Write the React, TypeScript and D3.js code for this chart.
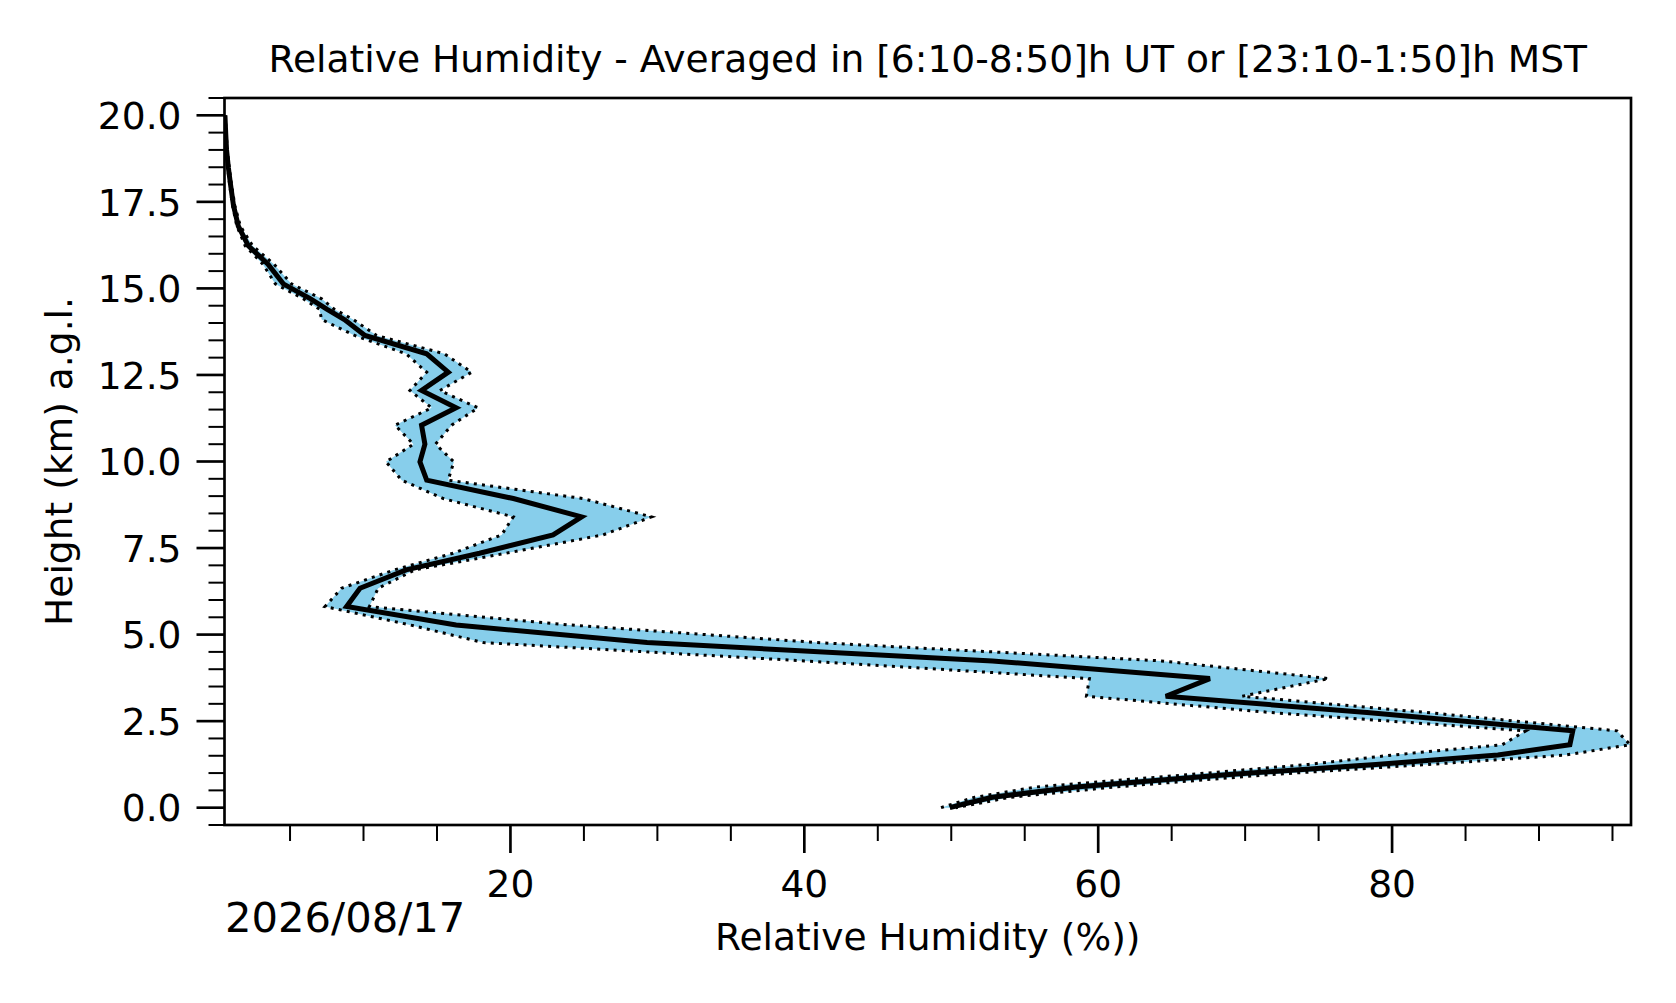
import React from "react";
import * as d3 from "d3";

// Heights (km a.g.l.) of the profile levels, top to bottom
const heights = [
  20.0, 19.5, 19.0, 18.5, 18.0, 17.4, 16.8, 16.23, 15.7, 15.13, 14.7, 14.4, 14.1,
  13.64, 13.11, 12.58, 12.05, 11.55, 11.05, 10.5, 9.99, 9.46, 8.93, 8.4, 7.88,
  7.35, 6.87, 6.34, 5.81, 5.28, 4.77, 4.24, 3.73, 3.22, 2.74, 2.22, 1.82, 1.52,
  1.25, 0.95, 0.6, 0.3, 0.12, 0.0,
];

// Mean relative humidity (%)
const rhMean = [
  0.57, 0.62, 0.68, 0.8, 0.95, 1.15, 1.48, 2.16, 3.5, 4.54, 6.4, 7.5, 8.7,
  10.1, 14.3, 15.77, 13.95, 16.3, 13.95, 14.18, 13.84, 14.3, 20.2, 24.84, 22.9,
  17.9, 12.9, 9.76, 8.85, 16.3, 29.3, 52.8, 67.6, 64.6, 78.5, 92.3, 92.1, 87.2,
  78.9, 68.7, 58.5, 52.8, 51.0, 49.9,
];

// Lower bound (mean - std)
const rhLower = [
  0.55, 0.59, 0.64, 0.75, 0.89, 1.08, 1.38, 1.95, 3.15, 4.0, 5.9, 7.0, 7.15,
  9.4, 12.9, 14.3, 13.16, 14.64, 12.14, 13.4, 11.53, 12.6, 15.43, 20.19, 19.4,
  16.1, 12.1, 8.51, 7.38, 13.16, 18.15, 40.0, 59.4, 59.2, 72.0, 89.1, 87.5, 80.0,
  74.3, 66.0, 55.8, 51.6, 50.2, 49.3,
];

// Upper bound (mean + std)
const rhUpper = [
  0.6, 0.66, 0.73, 0.86, 1.02, 1.24, 1.62, 2.45, 3.9, 5.1, 7.15, 8.0, 9.3,
  10.9, 15.5, 17.36, 15.2, 17.8, 16.0, 14.9, 16.15, 15.76, 24.95, 29.6, 26.3,
  19.7, 13.5, 11.0, 10.4, 24.0, 40.9, 64.3, 75.7, 69.8, 82.6, 95.3, 96.2, 91.8,
  82.5, 71.5, 61.2, 54.0, 51.8, 50.3,
];

const xMajorTicks = [20, 40, 60, 80];
const xMinorTicks = [5, 10, 15, 25, 30, 35, 45, 50, 55, 65, 70, 75, 85, 90, 95];
const yMajorTicks = [0, 2.5, 5, 7.5, 10, 12.5, 15, 17.5, 20];
const yMinorTicks = [
  -0.5, 0.5, 1, 1.5, 2, 3, 3.5, 4, 4.5, 5.5, 6, 6.5, 7, 8, 8.5, 9, 9.5, 10.5, 11,
  11.5, 12, 13, 13.5, 14, 14.5, 15.5, 16, 16.5, 17, 18, 18.5, 19, 19.5, 20.5,
];

const titleText =
  "Relative Humidity - Averaged in [6:10-8:50]h UT or [23:10-1:50]h MST";
const xLabel = "Relative Humidity (%))";
const yLabel = "Height (km) a.g.l.";
const dateText = "2026/08/17";

const W = 1676;
const H = 1003;
const L = 224.5;
const R = 1631;
const T = 98;
const B = 825;
const FONT = "DejaVu Sans, sans-serif";
const FS = 37.6;

export default function App() {
  const x = d3.scaleLinear().domain([0.54, 96.26]).range([L, R]);
  const y = d3.scaleLinear().domain([-0.5, 20.5]).range([B, T]);

  const rows = heights.map((h, i) => ({
    h,
    m: rhMean[i],
    lo: rhLower[i],
    hi: rhUpper[i],
  }));

  const area = d3
    .area<(typeof rows)[number]>()
    .y((d) => y(d.h))
    .x0((d) => x(d.lo))
    .x1((d) => x(d.hi));
  const lineOf = (key: "m" | "lo" | "hi") =>
    d3
      .line<(typeof rows)[number]>()
      .x((d) => x(d[key]))
      .y((d) => y(d.h))(rows) || "";

  const fmtY = d3.format(".1f");
  const fmtX = d3.format("d");
  const majorLen = 28;
  const minorLen = 16;

  return (
    <svg
      width={W}
      height={H}
      style={{ position: "absolute", left: 0, top: 0, background: "#fff" }}
      fontFamily={FONT}
    >
      <rect x={0} y={0} width={W} height={H} fill="#fff" />
      <defs>
        <clipPath id="plotclip">
          <rect x={L} y={T} width={R - L} height={B - T} />
        </clipPath>
      </defs>
      <g clipPath="url(#plotclip)">
        <path d={area(rows) || ""} fill="#87CEEB" stroke="none" />
        <path
          d={lineOf("lo")}
          fill="none"
          stroke="#000"
          strokeWidth={3}
          strokeDasharray="3 5.2"
        />
        <path
          d={lineOf("hi")}
          fill="none"
          stroke="#000"
          strokeWidth={3}
          strokeDasharray="3 5.2"
        />
        <path
          d={lineOf("m")}
          fill="none"
          stroke="#000"
          strokeWidth={5}
          strokeLinejoin="miter"
        />
      </g>

      {/* spines */}
      <rect
        x={L}
        y={T}
        width={R - L}
        height={B - T}
        fill="none"
        stroke="#000"
        strokeWidth={2.67}
      />

      {/* y ticks */}
      {yMajorTicks.map((t) => (
        <g key={"ym" + t}>
          <line
            x1={L - majorLen}
            x2={L}
            y1={y(t)}
            y2={y(t)}
            stroke="#000"
            strokeWidth={2.67}
          />
          <text
            x={L - majorLen - 15}
            y={y(t) + 13.7}
            textAnchor="end"
            fontSize={FS}
            fill="#000"
          >
            {fmtY(t)}
          </text>
        </g>
      ))}
      {yMinorTicks.map((t) => (
        <line
          key={"yn" + t}
          x1={L - minorLen}
          x2={L}
          y1={y(t)}
          y2={y(t)}
          stroke="#000"
          strokeWidth={2}
        />
      ))}

      {/* x ticks */}
      {xMajorTicks.map((t) => (
        <g key={"xm" + t}>
          <line
            x1={x(t)}
            x2={x(t)}
            y1={B}
            y2={B + majorLen}
            stroke="#000"
            strokeWidth={2.67}
          />
          <text
            x={x(t)}
            y={897}
            textAnchor="middle"
            fontSize={FS}
            fill="#000"
          >
            {fmtX(t)}
          </text>
        </g>
      ))}
      {xMinorTicks.map((t) => (
        <line
          key={"xn" + t}
          x1={x(t)}
          x2={x(t)}
          y1={B}
          y2={B + minorLen}
          stroke="#000"
          strokeWidth={2}
        />
      ))}

      {/* labels */}
      <text
        x={(L + R) / 2}
        y={72}
        textAnchor="middle"
        fontSize={FS}
        fill="#000"
      >
        {titleText}
      </text>
      <text
        x={(L + R) / 2}
        y={950}
        textAnchor="middle"
        fontSize={FS}
        fill="#000"
      >
        {xLabel}
      </text>
      <text
        transform={`translate(71.7, ${(T + B) / 2}) rotate(-90)`}
        textAnchor="middle"
        fontSize={FS}
        fill="#000"
      >
        {yLabel}
      </text>
      <text x={225} y={932} fontSize={41.7} fill="#000">
        {dateText}
      </text>
    </svg>
  );
}
